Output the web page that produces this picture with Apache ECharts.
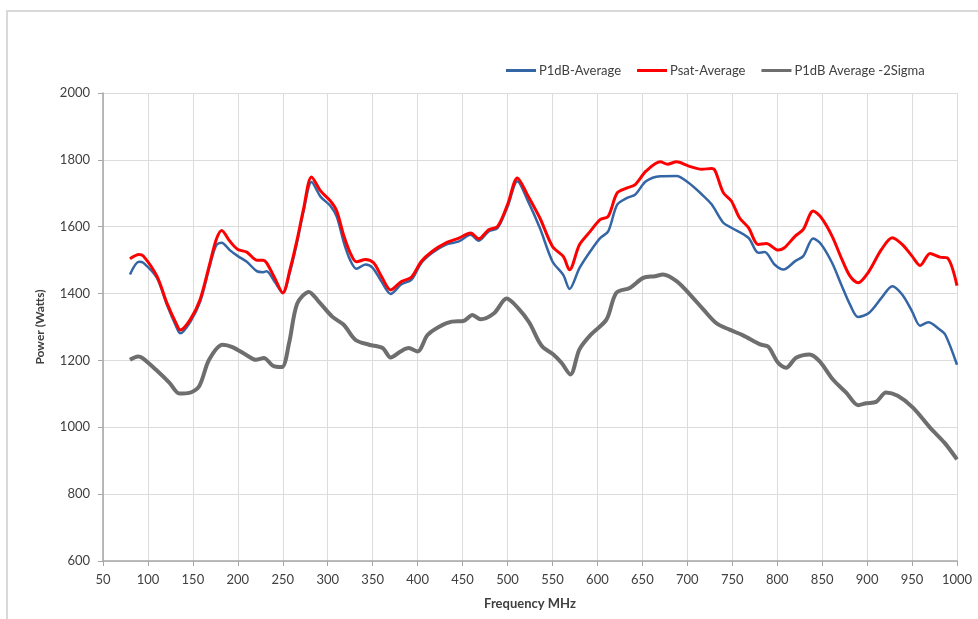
<!DOCTYPE html>
<html>
<head>
<meta charset="utf-8">
<script src="https://cdn.jsdelivr.net/npm/echarts@6/dist/echarts.min.js"></script>
<style>
html,body{margin:0;padding:0;background:#fff;}
#chart{width:978px;height:619px;}
</style>
</head>
<body>
<div id="chart"></div>
<script>
const seriesNames = ['P1dB-Average', 'Psat-Average', 'P1dB Average -2Sigma'];
const xTicks = [50,100,150,200,250,300,350,400,450,500,550,600,650,700,750,800,850,900,950,1000];
const yTicks = [600,800,1000,1200,1400,1600,1800,2000];

const p1dbFreq = [80,90,95,110,121,132,136,147,158,169,176,182,191,200,210,221,228,232,241,250,258,266,273,282,292,303,310,318,325,332,342,350,360,370,382,393,404,416,431,446,459,468,479,489,500,511,522,536,550,562,569,580,592,603,612,622,633,642,654,670,688,701,716,727,740,749,768,779,786,797,807,820,829,840,849,861,872,881,890,902,916,928,939,950,959,968,980,987,1000];
const p1dbVals = [1457,1495,1492,1447,1367,1298,1281,1315,1375,1485,1545,1552,1530,1512,1495,1467,1464,1467,1435,1402,1465,1555,1645,1734,1690,1662,1630,1552,1500,1474,1487,1477,1435,1399,1428,1441,1491,1521,1546,1556,1576,1558,1586,1596,1660,1736,1681,1596,1496,1456,1414,1476,1526,1566,1586,1666,1686,1696,1736,1751,1752,1732,1697,1667,1612,1597,1567,1522,1524,1487,1472,1497,1512,1565,1547,1492,1422,1367,1330,1342,1387,1422,1397,1347,1304,1314,1294,1277,1187];

const psatFreq = [80,90,95,110,121,132,136,147,158,169,176,182,191,200,210,221,228,232,241,250,258,266,273,282,292,303,310,318,325,332,342,351,360,370,382,393,404,416,431,446,459,468,479,489,500,511,522,536,550,562,569,580,592,603,612,622,633,642,654,670,678,688,701,716,727,731,740,749,758,768,779,788,801,808,820,829,840,849,861,872,881,890,901,916,928,939,950,959,970,981,989,1000];
const psatVals = [1504,1517,1512,1452,1372,1307,1291,1322,1382,1492,1562,1589,1557,1532,1524,1500,1500,1492,1447,1402,1472,1562,1652,1749,1707,1677,1647,1572,1522,1495,1502,1492,1450,1411,1436,1449,1496,1526,1551,1566,1581,1564,1591,1601,1666,1746,1696,1626,1541,1511,1471,1546,1586,1621,1631,1701,1716,1726,1766,1794,1787,1794,1782,1772,1774,1767,1702,1677,1627,1597,1547,1550,1530,1537,1572,1592,1647,1627,1572,1502,1452,1432,1462,1532,1567,1547,1512,1484,1520,1509,1507,1424];

const sigmaFreq = [80,89,94,109,124,135,146,157,168,183,194,209,220,229,239,249,257,266,279,290,305,318,331,346,361,370,381,390,400,411,424,438,451,461,470,485,499,512,524,535,540,551,560,570,580,593,610,621,636,651,664,673,688,703,718,732,747,762,781,790,801,810,821,836,847,862,877,890,899,910,921,934,951,970,986,1000];
const sigmaVals = [1202,1212,1207,1172,1133,1101,1103,1123,1202,1247,1240,1217,1202,1207,1184,1180,1252,1370,1405,1376,1331,1306,1261,1247,1237,1209,1227,1237,1227,1276,1301,1316,1318,1336,1323,1341,1385,1356,1314,1256,1238,1218,1193,1158,1233,1278,1322,1402,1417,1447,1452,1457,1437,1397,1352,1312,1292,1275,1248,1241,1193,1178,1208,1218,1198,1143,1103,1066,1072,1076,1104,1094,1059,999,954,904];

const pairs = (xs, ys) => xs.map((x, i) => [x, ys[i]]);
const FONT = 'Lato, "Liberation Sans", sans-serif';

const chart = echarts.init(document.getElementById('chart'), null, {renderer: 'canvas'});
chart.setOption({
  backgroundColor: '#ffffff',
  animation: false,
  textStyle: {fontFamily: FONT},
  graphic: [{
    type: 'rect', silent: true, z: -10,
    shape: {x: 7, y: 11, width: 990, height: 640},
    style: {fill: 'none', stroke: '#d9d9d9', lineWidth: 2}
  }],
  legend: {
    top: 59, left: 501,
    icon: 'rect', itemWidth: 30, itemHeight: 3, itemGap: 16,
    textStyle: {fontFamily: FONT, fontSize: 13, color: '#404040', padding: [0,0,0,-2]},
    data: seriesNames
  },
  grid: {left: 103, right: 21, top: 93, bottom: 58, containLabel: false},
  xAxis: {
    type: 'value', min: 50, max: 1000, interval: 50,
    name: 'Frequency MHz', nameLocation: 'middle', nameGap: 36,
    nameTextStyle: {fontFamily: FONT, fontSize: 13, fontWeight: 'bold', color: '#404040'},
    axisLine: {show: true, lineStyle: {color: '#a6a6a6', width: 1.5}},
    axisTick: {show: true, length: 5, lineStyle: {color: '#a6a6a6'}},
    axisLabel: {fontFamily: FONT, fontSize: 13, color: '#404040', margin: 12,
      formatter: v => xTicks.includes(v) ? String(v) : ''},
    splitLine: {show: true, lineStyle: {color: '#dcdcdc', width: 1}}
  },
  yAxis: {
    type: 'value', min: 600, max: 2000, interval: 200,
    name: 'Power (Watts)', nameLocation: 'middle', nameGap: 57, nameRotate: 90,
    nameTextStyle: {fontFamily: FONT, fontSize: 12, fontWeight: 'bold', color: '#404040'},
    axisLine: {show: true, lineStyle: {color: '#a6a6a6', width: 1.5}},
    axisTick: {show: true, length: 5, lineStyle: {color: '#a6a6a6'}},
    axisLabel: {fontFamily: FONT, fontSize: 13, color: '#404040', margin: 13,
      formatter: v => yTicks.includes(v) ? String(v) : ''},
    splitLine: {show: true, lineStyle: {color: '#dcdcdc', width: 1}}
  },
  series: [
    {name: seriesNames[0], type: 'line', data: pairs(p1dbFreq, p1dbVals), smooth: 0.3,
     symbol: 'none', color: '#3465a4', lineStyle: {width: 2.5, color: '#3465a4'}, z: 3},
    {name: seriesNames[1], type: 'line', data: pairs(psatFreq, psatVals), smooth: 0.3,
     symbol: 'none', color: '#ff0000', lineStyle: {width: 3, color: '#ff0000'}, z: 4},
    {name: seriesNames[2], type: 'line', data: pairs(sigmaFreq, sigmaVals), smooth: 0.3,
     symbol: 'none', color: '#6e6e6e', lineStyle: {width: 4, color: '#6e6e6e'}, z: 2}
  ]
});
</script>
</body>
</html>
